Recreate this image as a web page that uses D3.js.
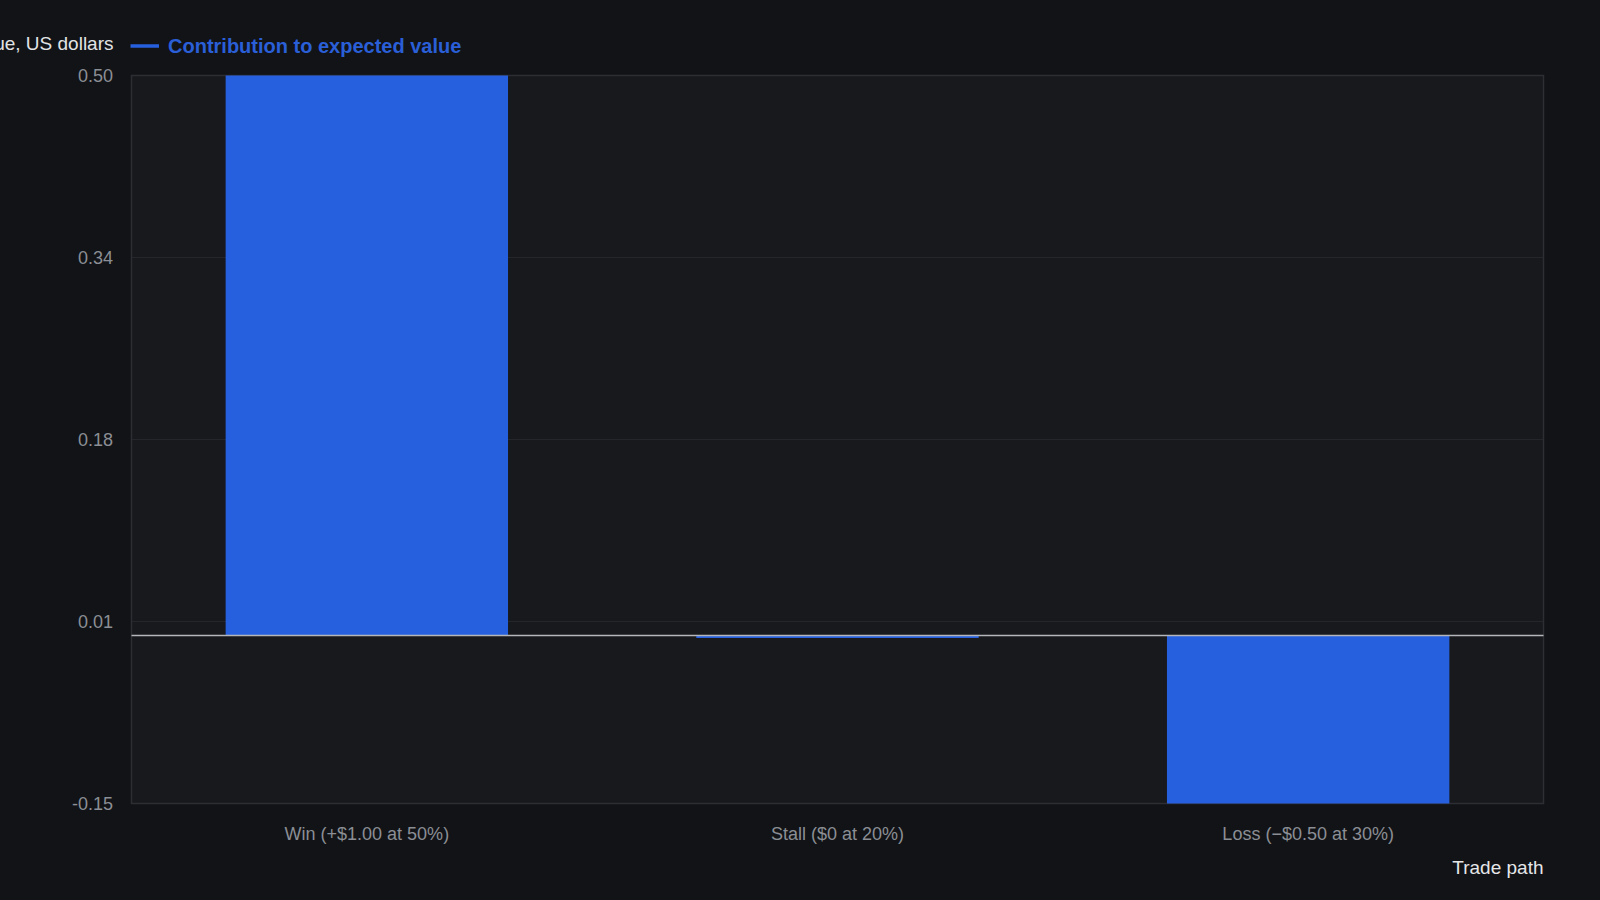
<!DOCTYPE html>
<html><head><meta charset="utf-8">
<script src="https://cdn.jsdelivr.net/npm/d3@7/dist/d3.min.js"></script>
<style>
html,body{margin:0;padding:0;background:#111317;}
svg{display:block;font-family:"Liberation Sans",Arial,Helvetica,sans-serif;}
</style></head>
<body>
<svg id="chart" width="1600" height="900"></svg>
<script>
const categories = ["Win (+$1.00 at 50%)", "Stall ($0 at 20%)", "Loss (\u2212$0.50 at 30%)"];
const values = [0.50, 0.00, -0.15];
const yTicks = [0.50, 0.3375, 0.175, 0.0125, -0.15];
const yTickLabels = ["0.50", "0.34", "0.18", "0.01", "-0.15"];
const seriesName = "Contribution to expected value";
const yTitle = "Expected value, US dollars";
const xTitle = "Trade path";

const svg = d3.select("#chart");
const m = {left: 131.5, right: 1543.5, top: 75.5, bottom: 803.5};

svg.append("rect").attr("width",1600).attr("height",900).attr("fill","#111317");

const x = d3.scaleBand().domain(categories).range([m.left, m.right]).paddingInner(0.4).paddingOuter(0.2);
const y = d3.scaleLinear().domain([-0.15, 0.50]).range([m.bottom, m.top]);

// plot background
svg.append("rect").attr("x", m.left).attr("y", m.top).attr("width", m.right-m.left).attr("height", m.bottom-m.top)
  .attr("fill","#17191d");

// gridlines
svg.append("g").selectAll("line").data(yTicks).join("line")
  .attr("x1", m.left).attr("x2", m.right)
  .attr("y1", d=>y(d)).attr("y2", d=>y(d))
  .attr("stroke","#24262b").attr("stroke-width",1);

// border
svg.append("rect").attr("x", m.left).attr("y", m.top).attr("width", m.right-m.left).attr("height", m.bottom-m.top)
  .attr("fill","none").attr("stroke","#2c2e33").attr("stroke-width",1.5);

// bars
svg.append("g").selectAll("rect").data(values).join("rect")
  .attr("x", (d,i)=>x(categories[i]))
  .attr("width", x.bandwidth())
  .attr("y", d=> d>=0 ? y(d) : y(0))
  .attr("height", d=> Math.max(2.5, Math.abs(y(d)-y(0))))
  .attr("fill","#2760de");

// zero line
svg.append("line").attr("x1", m.left).attr("x2", m.right).attr("y1", y(0)).attr("y2", y(0))
  .attr("stroke","#b4b6ba").attr("stroke-width",1.5);

// y axis labels
const yAxis = d3.axisLeft(y).tickValues(yTicks).tickFormat((d,i)=>yTickLabels[i]).tickSize(0).tickPadding(0);
const ga = svg.append("g").attr("transform", `translate(${m.left-18.5},0)`).call(yAxis);
ga.select(".domain").remove();
ga.selectAll("text").attr("fill","#8b8e94").attr("font-size",18).attr("font-family","Liberation Sans, Arial, sans-serif");

// x axis labels
const xAxis = d3.axisBottom(x).tickSize(0).tickPadding(0);
const gx = svg.append("g").attr("transform", `translate(0,${m.bottom+24})`).call(xAxis);
gx.select(".domain").remove();
gx.selectAll("text").attr("fill","#8b8e94").attr("font-size",18).attr("font-family","Liberation Sans, Arial, sans-serif");

// y title
svg.append("text").attr("x", 113.5).attr("y", 50).attr("text-anchor","end")
  .attr("fill","#e2e3e5").attr("font-size",19).text(yTitle);

// legend
svg.append("line").attr("x1",130.5).attr("x2",159).attr("y1",46).attr("y2",46)
  .attr("stroke","#2760de").attr("stroke-width",3.5);
svg.append("text").attr("x",168).attr("y",53).attr("fill","#2a5fd8").attr("font-size",20)
  .attr("font-weight","bold").text(seriesName);

// x title
svg.append("text").attr("x", m.right).attr("y", 874).attr("text-anchor","end")
  .attr("fill","#e6e7e9").attr("font-size",19).text(xTitle);
</script>
</body></html>
